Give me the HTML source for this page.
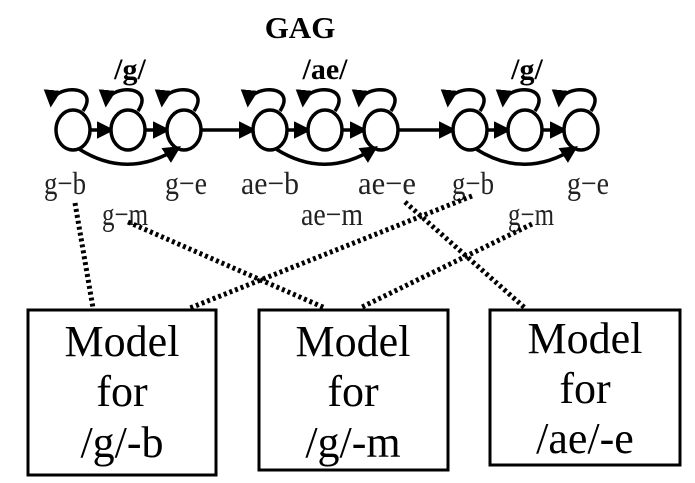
<!DOCTYPE html>
<html><head><meta charset="utf-8"><style>
html,body{margin:0;padding:0;background:#fff;width:695px;height:483px;overflow:hidden}
</style></head><body>
<svg width="695" height="483" viewBox="0 0 695 483">
<defs><marker id="ah" markerWidth="5" markerHeight="5" refX="4" refY="2.5" orient="auto"><path d="M0,0 L5,2.5 L0,5 z" fill="#000"/></marker></defs>
<text x="300" y="38" font-family="Liberation Serif,serif" font-size="31" font-weight="bold" text-anchor="middle">GAG</text>
<g font-family="Liberation Serif,serif" font-size="30" font-weight="bold" text-anchor="middle">
<text x="130" y="79">/g/</text>
<text x="325" y="79">/ae/</text>
<text x="527" y="79">/g/</text>
</g>
<g id="states" fill="none" stroke="#000" stroke-width="3.5"></g>
<g font-family="Liberation Serif,serif" font-size="32" fill="#222">
<text x="44" y="194" textLength="42" lengthAdjust="spacingAndGlyphs">g−b</text>
<text x="165" y="194" textLength="42" lengthAdjust="spacingAndGlyphs">g−e</text>
<text x="241" y="194" textLength="58" lengthAdjust="spacingAndGlyphs">ae−b</text>
<text x="358" y="194" textLength="58" lengthAdjust="spacingAndGlyphs">ae−e</text>
<text x="452" y="194" textLength="42" lengthAdjust="spacingAndGlyphs">g−b</text>
<text x="567" y="194" textLength="42" lengthAdjust="spacingAndGlyphs">g−e</text>
<text x="102" y="225" textLength="46" lengthAdjust="spacingAndGlyphs">g−m</text>
<text x="301" y="225" textLength="62" lengthAdjust="spacingAndGlyphs">ae−m</text>
<text x="508" y="225" textLength="46" lengthAdjust="spacingAndGlyphs">g−m</text>
</g>
<g stroke="#000" stroke-width="5" stroke-dasharray="3,3" fill="none">
<line x1="75" y1="203" x2="93" y2="308"/>
<line x1="128" y1="222" x2="325" y2="308"/>
<line x1="472" y1="196" x2="190" y2="308"/>
<line x1="405" y1="202" x2="525" y2="308"/>
<line x1="532" y1="224" x2="360" y2="308"/>
</g>
<g fill="#fff" stroke="#000" stroke-width="3">
<rect x="28" y="310" width="188" height="165"/>
<rect x="259" y="310" width="189" height="160"/>
<rect x="490" y="310" width="190" height="155"/>
</g>
<g font-family="Liberation Serif,serif" font-size="44" text-anchor="middle">
<text x="122" y="356">Model</text>
<text x="122" y="406">for</text>
<text x="122" y="457">/g/-b</text>
<text x="353" y="356">Model</text>
<text x="353" y="406">for</text>
<text x="353" y="457">/g/-m</text>
<text x="585" y="353">Model</text>
<text x="585" y="403">for</text>
<text x="585" y="453">/ae/-e</text>
</g>
</svg>
<script>
const groupStarts=[73,270,470];
const spacing=[0,55,111];
const g=document.getElementById('states');
const NS='http://www.w3.org/2000/svg';
const cy=130, rx=17, ry=20;
groupStarts.forEach((gx,gi)=>{
  const xs=spacing.map(s=>gx+s);
  xs.forEach((x,i)=>{
    const c=document.createElementNS(NS,'ellipse');
    c.setAttribute('cx',x);c.setAttribute('cy',cy);c.setAttribute('rx',rx);c.setAttribute('ry',ry);c.setAttribute('fill','#fff');
    
    
    g.appendChild(c);
    const l=document.createElementNS(NS,'path');
    l.setAttribute('d',`M${x+10},${cy-19} C${x+28},${cy-46} ${x-20},${cy-46} ${x-22},${cy-26}`);
    l.setAttribute('marker-end','url(#ah)');
    
    
    g.appendChild(l);
    if(i<2){
      const a=document.createElementNS(NS,'line');
      a.setAttribute('x1',x+rx);a.setAttribute('y1',cy);a.setAttribute('x2',xs[i+1]-rx);a.setAttribute('y2',cy);
      a.setAttribute('marker-end','url(#ah)');
      
      
      g.appendChild(a);
    }
  });
  const sk=document.createElementNS(NS,'path');
  sk.setAttribute('d',`M${xs[0]+6},${cy+19} Q${xs[1]},${cy+50} ${xs[2]-6},${cy+18}`);
  sk.setAttribute('marker-end','url(#ah)');
  
  
  g.appendChild(sk);
  if(gi<2){
    const a=document.createElementNS(NS,'line');
    a.setAttribute('x1',xs[2]+rx);a.setAttribute('y1',cy);a.setAttribute('x2',groupStarts[gi+1]-rx);a.setAttribute('y2',cy);
    a.setAttribute('marker-end','url(#ah)');
    
    
    g.appendChild(a);
  }
});
</script>
</body></html>
